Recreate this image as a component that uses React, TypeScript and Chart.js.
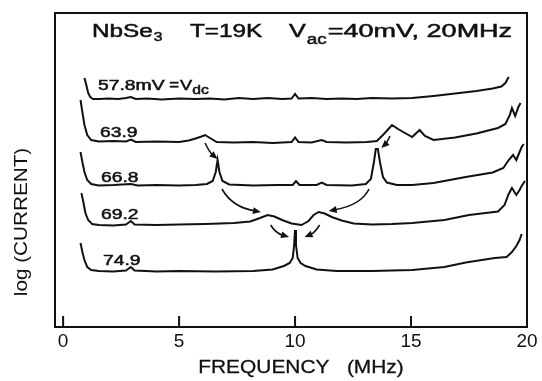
import React, { useEffect, useRef } from "react";
import { Chart, registerables } from "chart.js";

Chart.register(...registerables);

// ---------- data (frequency in MHz, log current in arbitrary units) ----------
const FREQ_TICKS = [0, 5, 10, 15, 20];
const VDC_VALUES = ["57.8mV", "63.9", "66.8", "69.2", "74.9"];

const F_578 = [0.92, 1.0, 1.08, 1.17, 1.29, 1.54, 1.96, 2.38, 2.71, 2.92, 3.13, 3.63, 4.25, 5.0, 5.71, 6.33, 6.95, 7.57, 8.2, 8.82, 9.44, 9.85, 10.0, 10.15, 10.71, 11.36, 12.01, 12.66, 13.31, 14.18, 15.05, 15.97, 16.9, 17.82, 18.52, 18.89, 19.07, 19.21];
const I_578 = [24.9, 24.2, 23.4, 23.0, 22.8, 22.8, 22.85, 22.8, 22.9, 23.0, 22.8, 22.85, 22.75, 22.85, 22.8, 22.85, 22.75, 22.9, 22.8, 22.9, 22.8, 22.85, 23.3, 22.85, 22.9, 22.8, 22.85, 22.8, 22.9, 22.85, 22.9, 23.1, 23.35, 23.6, 23.85, 24.05, 24.4, 25.0];

const F_639 = [0.75, 0.83, 0.92, 1.04, 1.21, 1.54, 2.17, 2.71, 2.92, 3.13, 4.04, 5.0, 5.41, 5.71, 5.97, 6.12, 6.33, 6.62, 7.37, 8.2, 9.03, 9.85, 10.0, 10.15, 10.71, 11.15, 11.36, 12.23, 13.1, 13.53, 13.83, 14.18, 14.44, 14.74, 15.05, 15.37, 15.6, 15.97, 16.9, 17.82, 18.75, 19.07, 19.26, 19.35, 19.49, 19.63, 19.72];
const I_639 = [22.7, 21.5, 20.2, 19.2, 18.7, 18.55, 18.6, 18.55, 18.75, 18.5, 18.55, 18.5, 18.65, 18.85, 19.05, 19.2, 18.9, 18.5, 18.45, 18.5, 18.4, 18.5, 18.95, 18.5, 18.45, 18.7, 18.5, 18.45, 18.5, 18.6, 19.3, 20.2, 19.8, 19.4, 19.0, 19.7, 19.1, 18.7, 18.95, 19.35, 19.9, 20.3, 21.2, 21.9, 21.1, 22.0, 22.4];

const F_668 = [0.75, 0.83, 0.92, 1.04, 1.21, 1.54, 2.17, 2.92, 3.21, 4.04, 5.0, 5.71, 6.2, 6.45, 6.58, 6.66, 6.74, 6.87, 7.16, 8.2, 9.23, 9.9, 10.04, 10.19, 10.93, 11.15, 11.36, 12.45, 13.05, 13.27, 13.4, 13.48, 13.57, 13.66, 13.79, 13.96, 14.39, 15.05, 15.97, 17.36, 18.52, 18.98, 19.21, 19.4, 19.54, 19.68, 19.77, 19.86];
const I_668 = [17.5, 16.5, 15.5, 14.7, 14.3, 14.15, 14.2, 14.3, 14.15, 14.2, 14.15, 14.2, 14.3, 14.6, 15.5, 16.7, 15.5, 14.6, 14.25, 14.15, 14.2, 14.2, 14.6, 14.2, 14.2, 14.45, 14.2, 14.15, 14.3, 14.8, 16.5, 17.8, 17.8, 16.5, 15.0, 14.45, 14.2, 14.2, 14.4, 15.0, 15.45, 15.9, 16.7, 17.2, 16.7, 17.5, 18.0, 18.3];

const F_692 = [0.79, 0.88, 0.96, 1.08, 1.25, 1.54, 2.17, 2.71, 2.92, 3.08, 4.04, 5.0, 6.12, 7.37, 8.07, 8.49, 8.82, 9.11, 9.44, 9.85, 10.28, 10.58, 10.8, 11.02, 11.28, 11.58, 12.01, 12.53, 13.31, 14.18, 15.05, 16.44, 17.5, 18.75, 19.03, 19.21, 19.35, 19.54, 19.68, 19.77, 19.91];
const I_692 = [13.4, 12.4, 11.4, 10.7, 10.3, 10.2, 10.15, 10.25, 10.6, 10.25, 10.2, 10.25, 10.3, 10.4, 10.55, 10.9, 11.2, 11.05, 10.7, 10.35, 10.2, 10.6, 11.2, 11.5, 11.35, 11.0, 10.65, 10.35, 10.25, 10.3, 10.4, 10.7, 11.2, 11.55, 12.2, 13.3, 13.9, 13.2, 13.7, 14.1, 14.6];

const F_749 = [0.75, 0.83, 0.92, 1.04, 1.21, 1.54, 2.17, 2.71, 2.92, 3.08, 4.04, 5.0, 6.54, 8.2, 9.03, 9.52, 9.77, 9.9, 9.96, 10.0, 10.04, 10.11, 10.24, 10.45, 10.93, 11.8, 13.31, 15.05, 16.44, 17.36, 18.61, 19.12, 19.35, 19.54, 19.68, 19.77];
const I_749 = [8.4, 7.5, 6.7, 6.0, 5.7, 5.6, 5.55, 5.65, 6.0, 5.65, 5.55, 5.6, 5.55, 5.6, 5.75, 6.1, 6.4, 6.9, 8.2, 9.7, 8.2, 6.9, 6.4, 6.1, 5.75, 5.6, 5.6, 5.7, 6.0, 6.45, 6.9, 7.0, 7.5, 8.1, 8.7, 9.3];

// arrows: [startX, startY, controlX, controlY, endX, endY] in (MHz, log current)
const ARROWS = [
  [6.12, 18.4, 6.3, 17.5, 6.66, 16.8],
  [14.09, 19.1, 13.95, 18.4, 13.72, 17.9],
  [6.85, 13.8, 7.28, 12.0, 8.53, 11.5],
  [13.19, 13.8, 12.85, 12.2, 11.45, 11.6],
  [8.95, 10.2, 9.15, 9.4, 9.74, 9.0],
  [11.06, 10.2, 10.84, 9.4, 10.41, 9.0],
];

const SERIES_F = [F_578, F_639, F_668, F_692, F_749];
const SERIES_I = [I_578, I_639, I_668, I_692, I_749];

// ---------- style ----------
const FONT = '"Liberation Sans", Arial, Helvetica, sans-serif';
const INK = "#111";

function wideText(ctx: CanvasRenderingContext2D, text: string, x: number, y: number, size: number, sx: number, align = "left", bold = 0.5) {
  ctx.save();
  ctx.font = `${size}px ${FONT}`;
  ctx.textBaseline = "alphabetic";
  ctx.textAlign = "left";
  const w = ctx.measureText(text).width * sx;
  let x0 = x;
  if (align === "right") x0 = x - w;
  else if (align === "center") x0 = x - w / 2;
  ctx.translate(x0, y);
  ctx.scale(sx, 1);
  ctx.fillStyle = INK;
  ctx.fillText(text, 0, 0);
  if (bold > 0) {
    ctx.strokeStyle = INK;
    ctx.lineWidth = bold;
    ctx.strokeText(text, 0, 0);
  }
  ctx.restore();
  return x0 + w;
}

const decorPlugin = {
  id: "decor",
  afterDraw(chart: any) {
    const ctx: CanvasRenderingContext2D = chart.ctx;
    const { left, right, top, bottom } = chart.chartArea;
    const xs = chart.scales.x;
    const ys = chart.scales.y;
    ctx.save();
    // frame
    ctx.strokeStyle = INK;
    ctx.lineWidth = 2;
    ctx.strokeRect(left, top, right - left, bottom - top);
    // inner ticks
    FREQ_TICKS.forEach((v) => {
      const px = xs.getPixelForValue(v);
      ctx.beginPath();
      ctx.moveTo(px, bottom);
      ctx.lineTo(px, bottom - 11);
      ctx.stroke();
    });

    // arrows
    ctx.lineWidth = 1.6;
    ARROWS.forEach((a) => {
      const x0 = xs.getPixelForValue(a[0]);
      const y0 = ys.getPixelForValue(a[1]);
      const cx = xs.getPixelForValue(a[2]);
      const cy = ys.getPixelForValue(a[3]);
      const x1 = xs.getPixelForValue(a[4]);
      const y1 = ys.getPixelForValue(a[5]);
      const ang = Math.atan2(y1 - cy, x1 - cx);
      const hl = 8;
      const bx = x1 - Math.cos(ang) * hl * 0.8;
      const by = y1 - Math.sin(ang) * hl * 0.8;
      ctx.beginPath();
      ctx.moveTo(x0, y0);
      ctx.quadraticCurveTo(cx, cy, bx, by);
      ctx.stroke();
      ctx.beginPath();
      ctx.moveTo(x1, y1);
      ctx.lineTo(x1 - Math.cos(ang) * hl + Math.sin(ang) * 3.5, y1 - Math.sin(ang) * hl - Math.cos(ang) * 3.5);
      ctx.lineTo(x1 - Math.cos(ang) * hl - Math.sin(ang) * 3.5, y1 - Math.sin(ang) * hl + Math.cos(ang) * 3.5);
      ctx.closePath();
      ctx.fillStyle = INK;
      ctx.fill();
    });

    // header
    let e = wideText(ctx, "NbSe", 92, 37, 18, 1.35);
    wideText(ctx, "3", e + 1, 41, 12, 1.3);
    wideText(ctx, "T=19K", 190, 37, 18, 1.35);
    e = wideText(ctx, "V", 289, 37, 18, 1.4);
    e = wideText(ctx, "ac", e + 1, 44, 14, 1.35);
    wideText(ctx, "=40mV, 20MHz", e + 1, 37, 18, 1.5);

    // trace labels
    const lx = [98, 100, 101, 101, 103];
    const ly = [90, 137, 182, 219, 265];
    VDC_VALUES.forEach((t, i) => {
      const end = wideText(ctx, t, lx[i], ly[i], 14, 1.38);
      if (i === 0) {
        const e2 = wideText(ctx, " =", end, ly[i], 14, 1.2);
        const e3 = wideText(ctx, "V", e2 + 1, ly[i], 14, 1.3);
        wideText(ctx, "dc", e3, ly[i] + 4, 12, 1.3);
      }
    });

    // axis titles
    wideText(ctx, "FREQUENCY   (MHz)", 301, 373, 19, 1.1, "center", 0.3);
    ctx.save();
    ctx.translate(27, 222);
    ctx.rotate(-Math.PI / 2);
    ctx.font = `18px ${FONT}`;
    const w = ctx.measureText("log (CURRENT)").width * 1.15;
    ctx.scale(1.15, 1);
    ctx.fillStyle = INK;
    ctx.fillText("log (CURRENT)", -w / 2 / 1.15, 0);
    ctx.restore();

    ctx.restore();
  },
};

export default function App() {
  const ref = useRef<HTMLCanvasElement | null>(null);
  useEffect(() => {
    if (!ref.current) return;
    const datasets = SERIES_F.map((fs, k) => ({
      label: VDC_VALUES[k],
      data: fs.map((x, i) => ({ x, y: SERIES_I[k][i] })),
      borderColor: INK,
      borderWidth: 2,
      pointRadius: 0,
      tension: 0,
      fill: false,
    }));
    const chart = new Chart(ref.current, {
      type: "line",
      data: { datasets },
      options: {
        animation: false,
        responsive: false,
        layout: { padding: { left: 55, right: 15, top: 13, bottom: 0 } },
        plugins: { legend: { display: false }, tooltip: { enabled: false } },
        scales: {
          x: {
            type: "linear",
            min: -0.35,
            max: 20,
            grid: { display: false, drawTicks: false },
            border: { display: false },
            afterBuildTicks: (s: any) => {
              s.ticks = FREQ_TICKS.map((v) => ({ value: v }));
            },
            afterFit: (s: any) => {
              s.height = 54;
            },
            ticks: {
              padding: 3,
              color: INK,
              font: { family: FONT, size: 19 },
              maxRotation: 0,
              autoSkip: false,
              callback: (v: any) => String(v),
            },
          },
          y: { display: false, min: 0, max: 31.4 },
        },
      },
      plugins: [decorPlugin],
    } as any);
    return () => chart.destroy();
  }, []);
  return (
    <div style={{ position: "absolute", left: 0, top: 0, width: 542, height: 381, background: "#fff" }}>
      <canvas ref={ref} width={542} height={381} style={{ display: "block" }} />
    </div>
  );
}
